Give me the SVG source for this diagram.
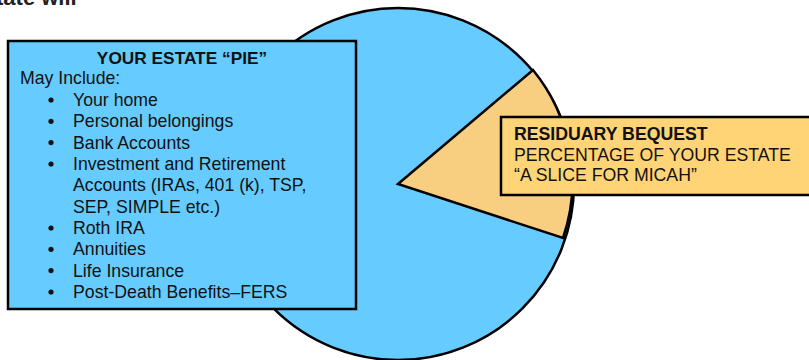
<svg xmlns="http://www.w3.org/2000/svg" width="809" height="360" viewBox="0 0 809 360">
<style>
text{font-family:"Liberation Sans",Arial,sans-serif;fill:#111;font-size:17.7px}
.b{font-weight:bold}
.edge{stroke:#000;stroke-width:2.5;stroke-linejoin:miter}
</style>
<rect width="809" height="360" fill="#fff"/>
<text x="-4" y="5" class="b" style="font-size:22px;fill:#222">tate will</text>
<g id="pie">
<circle cx="398" cy="184" r="176" fill="#66CCFF" class="edge"/>
</g>
<g id="slice">
<path d="M398,184 L533,70 A176,176 0 0 1 563,238 Z" fill="#F8CF80" class="edge"/>
</g>
<g id="estate-box">
<rect x="8" y="41" width="348" height="268" fill="#66CCFF" class="edge"/>
<text x="182" y="64" class="b" text-anchor="middle" style="font-size:17.3px">YOUR ESTATE “PIE”</text>
<text x="20" y="84">May Include:</text>
<g>
<circle cx="51" cy="100" r="2.6" fill="#111"/><text x="73" y="106">Your home</text>
<circle cx="51" cy="121.3" r="2.6" fill="#111"/><text x="73" y="127.3">Personal belongings</text>
<circle cx="51" cy="142.6" r="2.6" fill="#111"/><text x="73" y="148.6">Bank Accounts</text>
<circle cx="51" cy="164" r="2.6" fill="#111"/><text x="73" y="170">Investment and Retirement</text>
<text x="73" y="191.3">Accounts (IRAs, 401 (k), TSP,</text>
<text x="73" y="212.6">SEP, SIMPLE etc.)</text>
<circle cx="51" cy="228" r="2.6" fill="#111"/><text x="73" y="234">Roth IRA</text>
<circle cx="51" cy="249.3" r="2.6" fill="#111"/><text x="73" y="255.3">Annuities</text>
<circle cx="51" cy="270.6" r="2.6" fill="#111"/><text x="73" y="276.6">Life Insurance</text>
<circle cx="51" cy="292" r="2.6" fill="#111"/><text x="73" y="298">Post-Death Benefits–FERS</text>
</g>
</g>
<g id="bequest-box">
<rect x="501" y="117" width="312" height="78" fill="#FFD476" class="edge"/>
<text x="514" y="140" class="b">RESIDUARY BEQUEST</text>
<text x="514" y="161">PERCENTAGE OF YOUR ESTATE</text>
<text x="514" y="181">“A SLICE FOR MICAH”</text>
</g>
<g id="connectors"></g>
</svg>
